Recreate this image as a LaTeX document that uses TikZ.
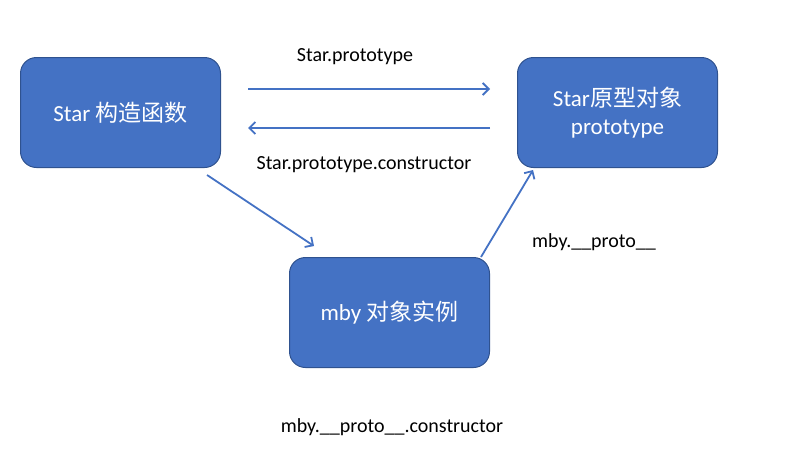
\documentclass[tikz,border=0pt]{standalone}
\usepackage{fontspec}
\setmainfont{Carlito}
\newfontfamily\cjk{Noto Sans CJK SC}
\usetikzlibrary{positioning,arrows.meta}

\definecolor{boxfill}{HTML}{4472C4}
\definecolor{boxline}{HTML}{2F528F}

\tikzset{
    box/.style={draw=boxline, line width=1pt, fill=boxfill, rounded corners=16pt,
        minimum width=200pt, minimum height=110pt, text=white, align=center,
        font=\fontsize{23}{28}\selectfont},
    arr/.style={draw=boxfill, line width=1.8pt, -{Straight Barb[length=6pt,width=12pt]}},
    lbl/.style={font=\fontsize{20}{24}\selectfont}
}

\begin{document}
\begin{tikzpicture}[x=1pt,y=-1pt]
    \useasboundingbox (0,0) rectangle (786,461);

    \node [box] (star) at (120.5,112.5) {Star {\cjk 构造函数}};
    \node [box, right=296pt of star] (proto) {Star{\cjk 原型对象}\\prototype};
    \node [box, below right=89pt and 68pt of star] (mby) {mby {\cjk 对象实例}};

    \node [lbl] (lsp) at (355,57) {Star.prototype};
    \node [lbl] (lspc) at (364,165) {Star.prototype.constructor};
    \node [lbl] (lmp) at (594,242) {mby.\_\_proto\_\_};
    \node [lbl] (lmpc) at (392,427) {mby.\_\_proto\_\_.constructor};

    % star <-> prototype
    \draw [arr, shorten <=27pt, shorten >=27pt] ([yshift=23.5pt]star.east) -- ([yshift=23.5pt]proto.west);
    \draw [arr, shorten <=27pt, shorten >=27pt] ([yshift=-15.5pt]proto.west) -- ([yshift=-15.5pt]star.east);
    % instance
    \draw [arr] ([shift={(-14,7)}]star.south east) -- ([shift={(25,-11)}]mby.north west);
    \draw [arr] ([shift={(-9,0)}]mby.north east) -- ([shift={(16,2)}]proto.south west);
\end{tikzpicture}
\end{document}
